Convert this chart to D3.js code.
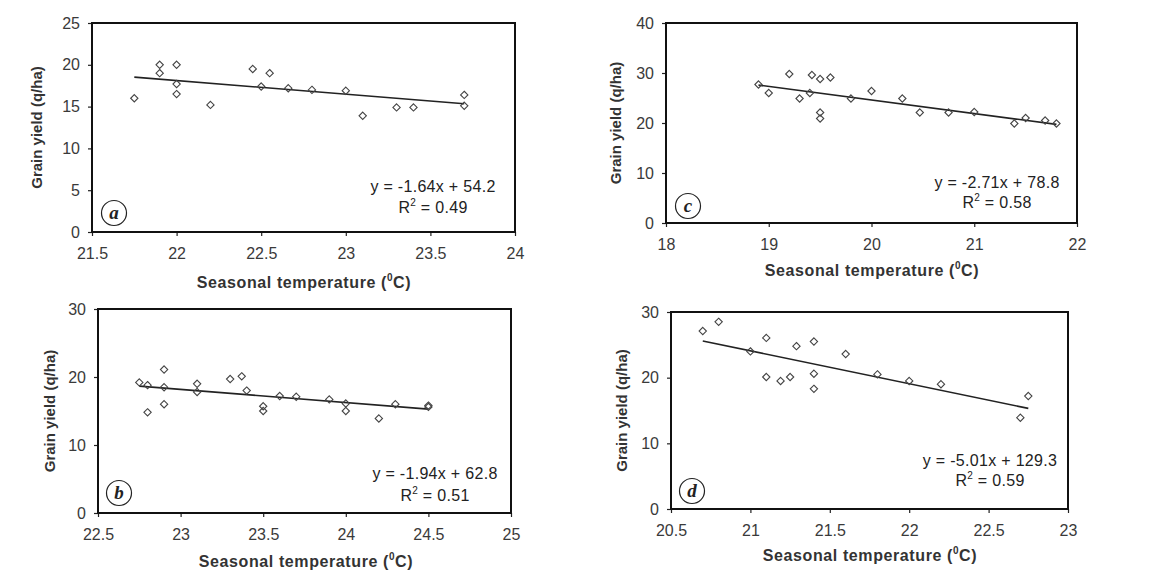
<!DOCTYPE html>
<html>
<head>
<meta charset="utf-8">
<script src="https://cdn.jsdelivr.net/npm/d3@7"></script>
<style>
  body { margin: 0; background: #fff; }
  svg { display: block; font-family: "Liberation Sans", Arial, sans-serif; }
</style>
</head>
<body>
<div id="target"></div>
<script>
var width = 1171, height = 578;

// panel a
var aTemp  = [21.75, 21.9, 21.9, 22.0, 22.0, 22.0, 22.2, 22.45, 22.5, 22.55, 22.66, 22.8, 23.0, 23.1, 23.3, 23.4, 23.7, 23.7];
var aYield = [16.0, 20.0, 19.0, 20.0, 17.7, 16.5, 15.2, 19.5, 17.4, 19.0, 17.2, 17.0, 16.9, 13.9, 14.9, 14.9, 16.4, 15.1];
// panel b
var bTemp  = [22.75, 22.8, 22.8, 22.9, 22.9, 22.9, 23.1, 23.1, 23.3, 23.37, 23.4, 23.5, 23.5, 23.6, 23.7, 23.9, 24.0, 24.0, 24.2, 24.3, 24.5, 24.5];
var bYield = [19.2, 18.8, 14.8, 21.1, 18.5, 16.0, 19.0, 17.8, 19.7, 20.1, 18.0, 15.7, 15.0, 17.2, 17.1, 16.7, 16.1, 15.0, 13.9, 16.0, 15.8, 15.6];
// panel c
var cTemp  = [18.9, 19.0, 19.2, 19.3, 19.4, 19.42, 19.5, 19.5, 19.5, 19.6, 19.8, 20.0, 20.3, 20.47, 20.75, 21.0, 21.39, 21.5, 21.69, 21.8];
var cYield = [27.7, 26.0, 29.8, 24.9, 26.0, 29.6, 28.8, 22.1, 20.9, 29.1, 24.9, 26.4, 24.9, 22.1, 22.1, 22.2, 19.9, 21.0, 20.5, 19.9];
// panel d
var dTemp  = [20.7, 20.8, 21.0, 21.1, 21.1, 21.19, 21.25, 21.29, 21.4, 21.4, 21.4, 21.6, 21.8, 22.0, 22.2, 22.7, 22.75];
var dYield = [27.1, 28.5, 24.0, 26.05, 20.1, 19.5, 20.1, 24.8, 25.5, 20.6, 18.3, 23.6, 20.5, 19.5, 19.0, 13.9, 17.2];

// fitted lines as printed on the chart
var slopes     = {a: -1.64, b: -1.94, c: -2.71, d: -5.01};
var intercepts = {a: 54.2, b: 62.8, c: 78.8, d: 129.3};
var eqLabels   = {a: "y = -1.64x + 54.2", b: "y = -1.94x + 62.8", c: "y = -2.71x + 78.8", d: "y = -5.01x + 129.3"};
var r2Labels   = {a: "0.49", b: "0.51", c: "0.58", d: "0.59"};

var xTicksA = [21.5, 22, 22.5, 23, 23.5, 24];
var yTicksA = [0, 5, 10, 15, 20, 25];
var xTicksB = [22.5, 23, 23.5, 24, 24.5, 25];
var yTicksB = [0, 10, 20, 30];
var xTicksC = [18, 19, 20, 21, 22];
var yTicksC = [0, 10, 20, 30, 40];
var xTicksD = [20.5, 21, 21.5, 22, 22.5, 23];
var yTicksD = [0, 10, 20, 30];

var svg = d3.select('#target').append('svg')
    .attr('width', width)
    .attr('height', height);

var panels = [
  {id: 'a', temp: aTemp, yld: aYield, xt: xTicksA, yt: yTicksA,
   box: {l: 92, r: 515, t: 23, b: 232}, yTitleX: 37, xTitle: [304, 288], eq: [433, 192, 213], circ: [114, 213]},
  {id: 'c', temp: cTemp, yld: cYield, xt: xTicksC, yt: yTicksC,
   box: {l: 666, r: 1077, t: 23, b: 223}, yTitleX: 616, xTitle: [872, 276], eq: [997, 188, 208], circ: [688, 206]},
  {id: 'b', temp: bTemp, yld: bYield, xt: xTicksB, yt: yTicksB,
   box: {l: 98, r: 511, t: 309, b: 513}, yTitleX: 50, xTitle: [306, 567], eq: [435, 479, 501], circ: [119, 493]},
  {id: 'd', temp: dTemp, yld: dYield, xt: xTicksD, yt: yTicksD,
   box: {l: 671, r: 1068, t: 312, b: 509}, yTitleX: 622, xTitle: [870, 561], eq: [990, 466, 486], circ: [692, 491]}
];

panels.forEach(drawPanel);

function drawPanel(p) {
  var bx = p.box;
  var x = d3.scaleLinear().domain(d3.extent(p.xt)).range([bx.l, bx.r]);
  var y = d3.scaleLinear().domain(d3.extent(p.yt)).range([bx.b, bx.t]);
  var g = svg.append('g');

  // axes
  var xa = g.append('g').attr('transform', 'translate(0,' + bx.b + ')')
      .call(d3.axisBottom(x).tickValues(p.xt).tickSize(4).tickPadding(12).tickFormat(d3.format('')));
  var ya = g.append('g').attr('transform', 'translate(' + bx.l + ',0)')
      .call(d3.axisLeft(y).tickValues(p.yt).tickSize(4).tickPadding(8).tickFormat(d3.format('')));
  [xa, ya].forEach(function (a) {
    a.select('.domain').remove();
    a.selectAll('line').attr('stroke', '#222').attr('stroke-width', 1.2);
    a.selectAll('text').attr('font-size', 16).attr('fill', '#3a3a3a')
      .attr('font-family', '"Liberation Sans", Arial, sans-serif');
  });

  // frame
  g.append('rect')
    .attr('x', bx.l).attr('y', bx.t)
    .attr('width', bx.r - bx.l).attr('height', bx.b - bx.t)
    .attr('fill', 'none').attr('stroke', '#111').attr('stroke-width', 2);

  // trend line
  var xs = d3.extent(p.temp);
  var m = slopes[p.id], c = intercepts[p.id];
  g.append('line')
    .attr('x1', x(xs[0])).attr('y1', y(m * xs[0] + c))
    .attr('x2', x(xs[1])).attr('y2', y(m * xs[1] + c))
    .attr('stroke', '#222').attr('stroke-width', 1.6);

  // points
  var pts = p.temp.map(function (t, i) { return {t: t, v: p.yld[i]}; });
  g.selectAll('path.pt').data(pts).enter()
    .append('path').attr('class', 'pt')
    .attr('d', d3.symbol(d3.symbolDiamond2, 34))
    .attr('transform', function (d) { return 'translate(' + x(d.t) + ',' + y(d.v) + ')'; })
    .attr('fill', 'none').attr('stroke', '#444').attr('stroke-width', 1.1);

  // axis titles
  var xt = g.append('text')
    .attr('x', p.xTitle[0]).attr('y', p.xTitle[1])
    .attr('text-anchor', 'middle').attr('font-size', 16).attr('font-weight', 'bold')
    .attr('letter-spacing', 0.6).attr('fill', '#333')
    .text('Seasonal temperature (');
  xt.append('tspan').attr('font-size', 10).attr('dy', -7).text('0');
  xt.append('tspan').attr('dy', 7).text('C)');

  g.append('text')
    .attr('transform', 'translate(' + p.yTitleX + ',' + ((bx.t + bx.b) / 2) + ') rotate(-90)')
    .attr('text-anchor', 'middle').attr('dy', '0.35em')
    .attr('font-size', 15).attr('font-weight', 'bold').attr('fill', '#333')
    .text('Grain yield (q/ha)');

  // equation
  g.append('text')
    .attr('x', p.eq[0]).attr('y', p.eq[1])
    .attr('text-anchor', 'middle').attr('font-size', 16).attr('letter-spacing', 0.3).attr('fill', '#222')
    .text(eqLabels[p.id]);
  var r2 = g.append('text')
    .attr('x', p.eq[0]).attr('y', p.eq[2])
    .attr('text-anchor', 'middle').attr('font-size', 16).attr('letter-spacing', 0.3).attr('fill', '#222')
    .text('R');
  r2.append('tspan').attr('font-size', 10).attr('dy', -7).text('2');
  r2.append('tspan').attr('dy', 7).text(' = ' + r2Labels[p.id]);

  // panel letter
  g.append('circle')
    .attr('cx', p.circ[0]).attr('cy', p.circ[1]).attr('r', 12.5)
    .attr('fill', 'none').attr('stroke', '#222').attr('stroke-width', 1.2);
  g.append('text')
    .attr('x', p.circ[0]).attr('y', p.circ[1]).attr('dy', '0.32em')
    .attr('text-anchor', 'middle')
    .attr('font-family', '"Liberation Serif", "Times New Roman", serif')
    .attr('font-style', 'italic').attr('font-weight', 'bold').attr('font-size', 19).attr('fill', '#222')
    .text(p.id);
}
</script>
</body>
</html>
